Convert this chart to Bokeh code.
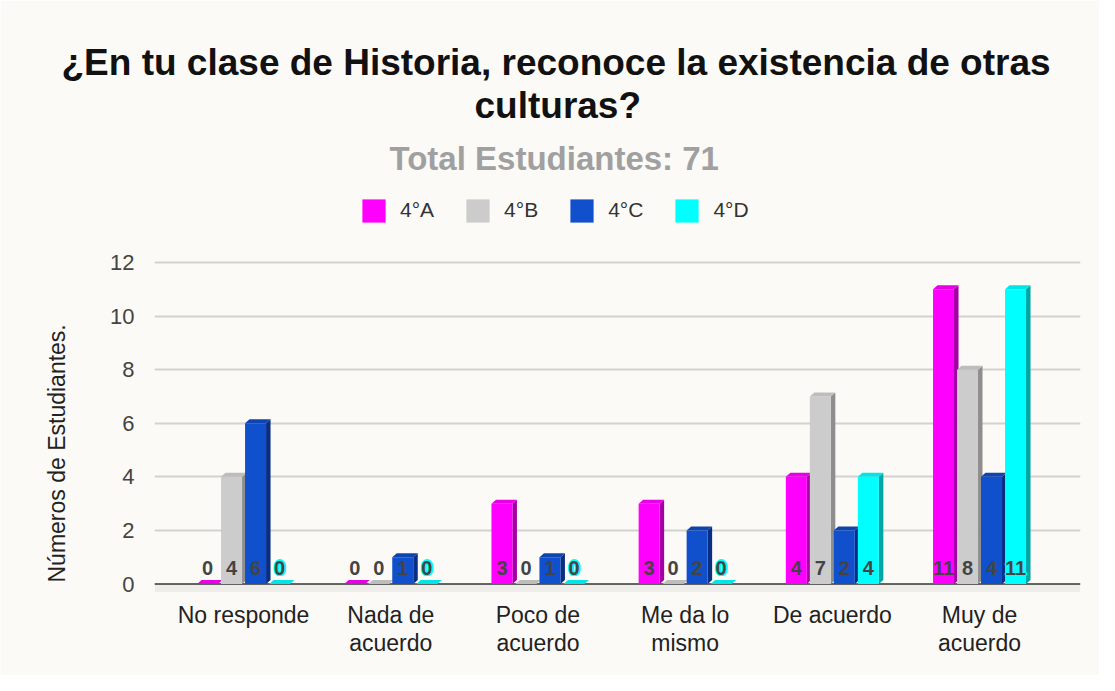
from bokeh.plotting import figure
from bokeh.models import (ColumnDataSource, FixedTicker, Legend, LegendItem, Span, Title)
from bokeh.core.properties import value
from bokeh.embed import file_html
from bokeh.resources import INLINE

# ---- data ----
categories = ["No responde", "Nada de\nacuerdo", "Poco de\nacuerdo", "Me da lo\nmismo", "De acuerdo", "Muy de\nacuerdo"]
series_names = ["4°A", "4°B", "4°C", "4°D"]
vals_4A = [0, 0, 3, 3, 4, 11]
vals_4B = [4, 0, 0, 0, 7, 8]
vals_4C = [6, 1, 1, 2, 2, 4]
vals_4D = [0, 0, 0, 0, 4, 11]
y_ticks = [0, 2, 4, 6, 8, 10, 12]

title_line1 = "¿En tu clase de Historia, reconoce la existencia de otras"
title_line2 = "culturas?"
subtitle = "Total Estudiantes: 71"
y_label = "Números de Estudiantes."

front_colors = ["#FF00FF", "#CCCCCC", "#1150CC", "#00FFFF"]
side_colors = ["#A400A4", "#8E8E8E", "#0A2E82", "#00A6A6"]
top_colors = ["#E600E6", "#BDBDBD", "#0E44B0", "#00E6E6"]

FONT = "Liberation Sans"
BG = "#FCFAF6"

# ---- layout (pixels) ----
W, H = 1099, 675
FRAME_L, FRAME_R, FRAME_T, FRAME_B = 154, 1080, 189, 593
ZERO_PX, PX_PER_UNIT = 583.5, 321.5 / 12
XR = (-0.605, 5.686)
YR = (-(FRAME_B - ZERO_PX) / PX_PER_UNIT, (ZERO_PX - FRAME_T) / PX_PER_UNIT)

p = figure(width=W, height=H, output_backend="svg", toolbar_location=None,
           x_range=XR, y_range=YR,
           min_border_left=FRAME_L, min_border_right=W - FRAME_R,
           min_border_top=FRAME_T, min_border_bottom=H - FRAME_B)
p.background_fill_color = BG
p.border_fill_color = BG
p.outline_line_color = None

px_x = (FRAME_R - FRAME_L) / (XR[1] - XR[0])
step = 24 / px_x
bw = 21 / px_x
dx = 4.5 / px_x
dy = 4.0 / PX_PER_UNIT

all_vals = [vals_4A, vals_4B, vals_4C, vals_4D]
xs_cat = list(range(len(categories)))

# floor shadow
p.quad(left=[XR[0]], right=[XR[1]], bottom=[-0.3], top=[0], fill_color="#EEEDEA", line_color=None, level="underlay")

legend_items = []
for si, vals in enumerate(all_vals):
    off = (si - 1.5) * step
    xc = [x + off for x in xs_cat]
    side_xs, side_ys, top_xs, top_ys = [], [], [], []
    for x, v in zip(xc, vals):
        x0, x1 = x - bw / 2, x + bw / 2
        side_xs.append([x1, x1 + dx, x1 + dx, x1])
        side_ys.append([0, dy, v + dy, v])
        top_xs.append([x0, x1, x1 + dx, x0 + dx])
        top_ys.append([v, v, v + dy, v + dy])
    p.patches(side_xs, side_ys, fill_color=side_colors[si], line_color=None)
    r = p.vbar(x=xc, top=vals, bottom=0, width=bw, fill_color=front_colors[si], line_color=None)
    p.patches(top_xs, top_ys, fill_color=top_colors[si], line_color=None)
    legend_items.append(LegendItem(label=series_names[si], renderers=[r]))

# data labels
for si, vals in enumerate(all_vals):
    off = (si - 1.5) * step
    xc = [x + off for x in xs_cat]
    src = ColumnDataSource(dict(x=xc, y=[0.6] * len(vals), t=[str(v) for v in vals]))
    if si == 3:
        for ox, oy in [(-1.5, 0), (1.5, 0), (0, -1.5), (0, 1.5), (-1, -1), (1, 1), (-1, 1), (1, -1)]:
            p.text(x="x", y="y", text="t", source=src, x_offset=ox, y_offset=oy,
                   text_align="center", text_baseline="middle", text_font=value(FONT),
                   text_font_style="bold", text_font_size="20px", text_color="#00FFFF")
    p.text(x="x", y="y", text="t", source=src, text_align="center", text_baseline="middle",
           text_font=value(FONT), text_font_style="bold", text_font_size="20px", text_color="#444444")

# baseline
p.add_layout(Span(location=0, dimension="width", line_color="#333333", line_width=1.5, level="underlay"))

# axes & grids
p.xaxis.ticker = FixedTicker(ticks=xs_cat)
p.xaxis.major_label_overrides = {i: c for i, c in enumerate(categories)}
p.xaxis.major_label_text_font = FONT
p.xaxis.major_label_text_font_size = "23px"
p.xaxis.major_label_text_line_height = 1.08
p.xaxis.major_label_text_color = "#222222"
p.xaxis.major_label_standoff = 8
p.xaxis.major_tick_out = 0
p.xaxis.axis_line_color = None
p.xaxis.major_tick_line_color = None
p.xaxis.minor_tick_line_color = None

p.yaxis.ticker = FixedTicker(ticks=y_ticks)
p.yaxis.major_label_text_font = FONT
p.yaxis.major_label_text_font_size = "22px"
p.yaxis.major_label_text_color = "#444444"
p.yaxis.major_label_standoff = 20
p.yaxis.major_tick_out = 0
p.yaxis.axis_line_color = None
p.yaxis.major_tick_line_color = None
p.yaxis.minor_tick_line_color = None

p.xgrid.grid_line_color = None
p.ygrid.ticker = FixedTicker(ticks=y_ticks[1:])
p.ygrid.grid_line_color = "#D4D2CE"
p.ygrid.grid_line_width = 2

# y axis title (left panel, outside the tick labels)
p.add_layout(Title(text=y_label, align="left", offset=11, standoff=76,
                   text_font=FONT, text_font_size="23px", text_font_style="normal",
                   text_color="#222222"), "left")

# legend inside the (extended) frame
legend = Legend(items=legend_items, orientation="horizontal", location=(205, FRAME_B - 224.5),
                glyph_width=29, glyph_height=29, label_standoff=12, spacing=29,
                padding=0, margin=0, border_line_color=None, background_fill_alpha=0,
                label_text_font=FONT, label_text_font_size="21px", label_text_color="#333333")
p.add_layout(legend, "center")

# header titles, stacked from the frame upwards
p.add_layout(Title(text=subtitle, align="left", offset=235, standoff=25,
                   text_font=FONT, text_font_size="33px", text_font_style="bold", text_color="#A0A0A0"), "above")
p.add_layout(Title(text=title_line2, align="left", offset=320, standoff=0,
                   text_font=FONT, text_font_size="37px", text_font_style="bold", text_color="#111111"), "above")
p.add_layout(Title(text=title_line1, align="left", offset=-93, standoff=0,
                   text_font=FONT, text_font_size="37px", text_font_style="bold", text_color="#111111"), "above")

html = file_html(p, INLINE)
open("out.html", "w").write(html)
